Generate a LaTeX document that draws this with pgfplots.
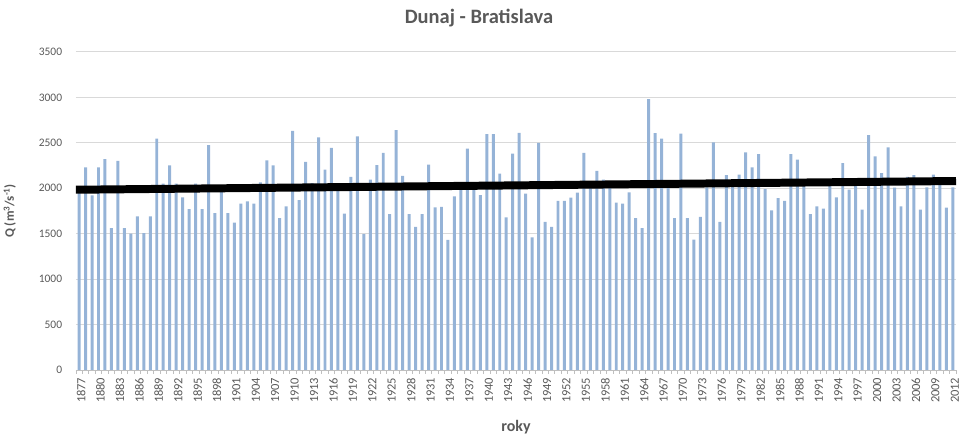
\documentclass[border=0pt]{standalone}
\usepackage{fontspec}
\setmainfont{Carlito}
\usepackage{pgfplots}
\pgfplotsset{compat=1.18}
\usepackage{pgfplotstable}
\definecolor{barblue}{RGB}{149,179,215}
\definecolor{txtgray}{RGB}{89,89,89}
\definecolor{gridgray}{RGB}{217,217,217}
\definecolor{axgray}{RGB}{191,191,191}

\pgfplotstableread{
year Q
1877 1985
1878 2230
1879 1920
1880 2230
1881 2320
1882 1560
1883 2300
1884 1560
1885 1500
1886 1690
1887 1505
1888 1690
1889 2545
1890 2050
1891 2250
1892 2050
1893 1900
1894 1770
1895 2050
1896 1770
1897 2475
1898 1725
1899 1980
1900 1725
1901 1620
1902 1830
1903 1855
1904 1830
1905 2065
1906 2305
1907 2250
1908 1670
1909 1800
1910 2630
1911 1870
1912 2290
1913 2055
1914 2560
1915 2205
1916 2445
1917 1990
1918 1720
1919 2125
1920 2570
1921 1495
1922 2095
1923 2255
1924 2390
1925 1715
1926 2640
1927 2135
1928 1715
1929 1575
1930 1715
1931 2260
1932 1790
1933 1795
1934 1430
1935 1910
1936 1990
1937 2435
1938 2000
1939 1925
1940 2595
1941 2595
1942 2160
1943 1680
1944 2380
1945 2610
1946 1940
1947 1460
1948 2500
1949 1630
1950 1575
1951 1860
1952 1860
1953 1895
1954 1950
1955 2390
1956 2020
1957 2190
1958 2095
1959 2030
1960 1840
1961 1830
1962 1955
1963 1670
1964 1560
1965 2980
1966 2605
1967 2545
1968 2030
1969 1670
1970 2600
1971 1670
1972 1435
1973 1685
1974 2010
1975 2505
1976 1630
1977 2145
1978 2040
1979 2150
1980 2395
1981 2230
1982 2375
1983 1990
1984 1755
1985 1890
1986 1860
1987 2375
1988 2315
1989 2040
1990 1715
1991 1800
1992 1775
1993 2040
1994 1900
1995 2275
1996 1985
1997 2030
1998 1765
1999 2585
2000 2350
2001 2165
2002 2450
2003 2005
2004 1800
2005 2125
2006 2145
2007 1765
2008 2010
2009 2150
2010 2085
2011 1785
2012 2010
}\flowdata

\begin{document}
\begin{tikzpicture}
\path[use as bounding box] (-76bp,-66.3bp) rectangle (886bp,370.7bp);
\begin{axis}[
  at={(0,0)}, anchor=south west,
  scale only axis, width=882bp, height=318.7bp,
  xmin=1876.5, xmax=2012.5, ymin=0, ymax=3500,
  ytick={0,500,...,3500},
  xtick={1877,1880,...,2012},
  minor xtick={1876.5,1877.5,...,2012.5},
  /pgf/number format/1000 sep={},
  /pgf/number format/assume math mode=true,
  axis x line*=bottom, axis y line*=left,
  x axis line style={axgray, line width=0.8bp},
  y axis line style={draw=none},
  ytick style={draw=none},
  major x tick style={draw=none},
  minor x tick style={axgray, line width=0.6bp},
  minor tick length=4bp,
  tick align=outside,
  ymajorgrids,
  grid style={gridgray, line width=0.8bp},
  xticklabel style={rotate=90, anchor=east, font=\fontsize{12.5bp}{14bp}\selectfont, text=txtgray, yshift=-2bp},
  yticklabel style={font=\fontsize{11.5bp}{13bp}\selectfont, text=txtgray, xshift=-6bp},
  every axis y label/.style={at={(axis description cs:-0.075,0.5)}, rotate=90, anchor=center, font=\bfseries\fontsize{13bp}{15bp}\selectfont, text=txtgray},
  every axis x label/.style={at={(axis description cs:0.5,-0.18)}, anchor=center, font=\bfseries\fontsize{16bp}{18bp}\selectfont, text=txtgray},
  ylabel={Q (m\textsuperscript{3}/s\textsuperscript{-1})},
  xlabel={roky},
]
\addplot[ybar, bar width=0.46, bar shift=0pt, fill=barblue, draw=none] table[x=year, y=Q] {\flowdata};
\addplot[black, line width=8bp, no marks] coordinates {(1876.5,1983) (2012.5,2079)};
\end{axis}
\node[font=\bfseries\fontsize{20.5bp}{24bp}\selectfont, text=txtgray] at (404bp,352.7bp) {Dunaj - Bratislava};
\end{tikzpicture}
\end{document}
